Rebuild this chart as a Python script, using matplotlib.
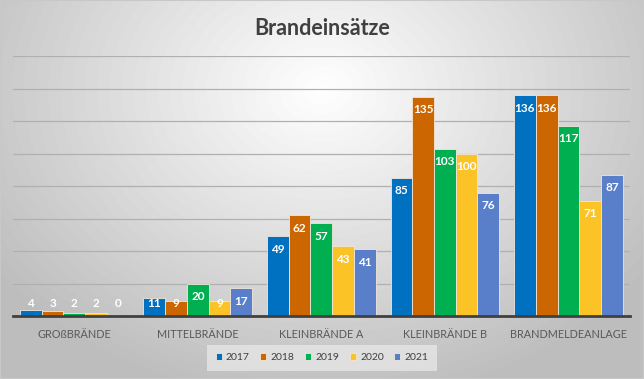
import matplotlib
matplotlib.use("Agg")
import matplotlib.pyplot as plt
import numpy as np

plt.rcParams['font.family'] = ['Lato', 'DejaVu Sans']

categories = ['GROßBRÄNDE', 'MITTELBRÄNDE', 'KLEINBRÄNDE A', 'KLEINBRÄNDE B', 'BRANDMELDEANLAGE']
years = ['2017', '2018', '2019', '2020', '2021']
v2017 = [4, 11, 49, 85, 136]
v2018 = [3, 9, 62, 135, 136]
v2019 = [2, 20, 57, 103, 117]
v2020 = [2, 9, 43, 100, 71]
v2021 = [0, 17, 41, 76, 87]
series = [v2017, v2018, v2019, v2020, v2021]
colors = ['#0070c0', '#cc6600', '#00b050', '#fbc326', '#5a7fca']

fig = plt.figure(figsize=(6.44, 3.79), dpi=100)

# radial gradient background like the Excel chart area
bg = fig.add_axes([0, 0, 1, 1], zorder=-10)
yy, xx = np.mgrid[0:379, 0:644]
r = np.sqrt(((xx - 322) / 420.0) ** 2 + ((yy - 90) / 330.0) ** 2)
shade = np.clip(1.0 - 0.27 * r, 0.74, 1.0)
bg.imshow(shade, cmap='gray', vmin=0, vmax=1, aspect='auto', extent=[0, 1, 0, 1])
bg.add_patch(plt.Rectangle((0, 0), 1, 1, transform=bg.transAxes, fill=False,
                           edgecolor='#c8c8c8', lw=1.5))
bg.axis('off')

ax = fig.add_axes([0.0195, 0.166, 0.959, 0.686])
ax.patch.set_alpha(0)
x = np.arange(len(categories))
w = 0.176
for i, (vals, c) in enumerate(zip(series, colors)):
    pos = x + (i - 2) * w
    ax.bar(pos, vals, w, color=c, edgecolor='#f2e6d9', linewidth=0.6, label=years[i], zorder=3)
    for p, v in zip(pos, vals):
        ax.text(p, max(v - 8, 8), str(v), ha='center', va='center', color='white',
                fontsize=8.5, fontweight='bold', zorder=4)

ax.set_xlim(-0.5, 4.5)
ax.set_ylim(0, 160)
ax.set_yticks(np.arange(20, 161, 20))
ax.yaxis.grid(True, color='#b0b0b0', lw=0.9, zorder=0)
ax.tick_params(axis='y', left=False, labelleft=False)
ax.set_xticks(x)
ax.set_xticklabels(categories, fontsize=7.8, color='#595959')
ax.tick_params(axis='x', length=0, pad=9)
for s in ['top', 'right', 'left']:
    ax.spines[s].set_visible(False)
ax.spines['bottom'].set_color('#404040')
ax.spines['bottom'].set_linewidth(2)
ax.spines['bottom'].set_zorder(5)

fig.text(0.5, 0.925, 'Brandeinsätze', ha='center', va='center', fontsize=15.5,
         fontweight='bold', color='#404040')

leg = ax.legend(loc='center', bbox_to_anchor=(0.5, 0.5), bbox_transform=fig.transFigure,
                ncol=5, fontsize=7.5, frameon=True, handlelength=0.6, handleheight=0.6,
                handletextpad=0.4, columnspacing=1.0, borderpad=0.5)
leg.set_bbox_to_anchor((0.5, 0.056), transform=fig.transFigure)
leg.get_frame().set_facecolor('#e6e6e6')
leg.get_frame().set_edgecolor('none')
leg.get_frame().set_alpha(0.8)
leg.get_frame().set_boxstyle('square', pad=0.3)
for t in leg.get_texts():
    t.set_color('#404040')

fig.savefig('out.png', dpi=100)
